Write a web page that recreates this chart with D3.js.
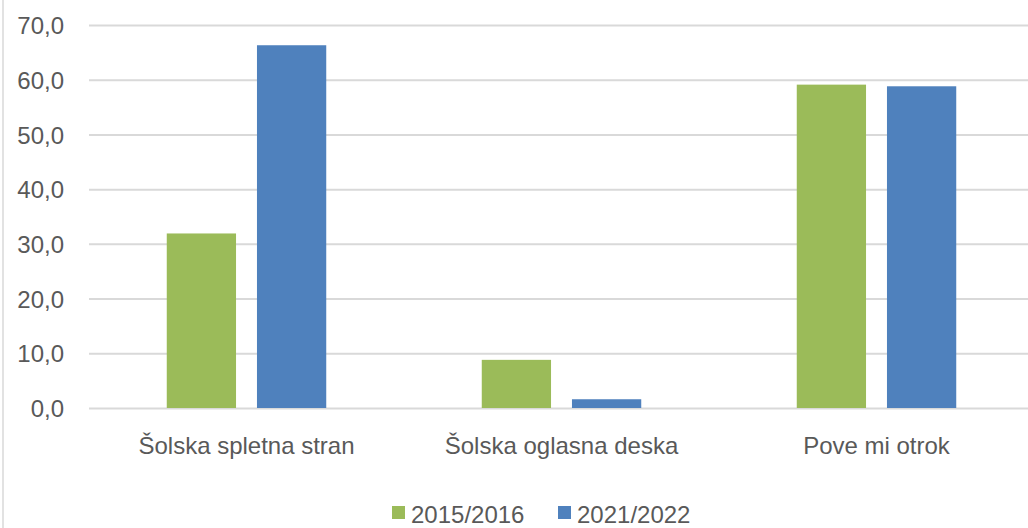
<!DOCTYPE html>
<html>
<head>
<meta charset="utf-8">
<script src="https://cdn.jsdelivr.net/npm/d3@7"></script>
<style>
  body { margin: 0; background: #fff; }
  svg { display: block; }
  text { font-family: "Liberation Sans", Arial, sans-serif; fill: #595959; }
</style>
</head>
<body>
<svg id="chart"></svg>
<script>
const categories = ['Šolska spletna stran', 'Šolska oglasna deska', 'Pove mi otrok'];
const series = ['2015/2016', '2021/2022'];
const values2015 = [31.9, 8.8, 59.1];
const values2021 = [66.3, 1.6, 58.8];
const yTicks = [0, 10, 20, 30, 40, 50, 60, 70];
const colors = ['#9bbb59', '#4f81bd'];

const width = 1028;
const height = 528;
const margin = { top: 25, left: 89, right: -6, bottom: 120 };
const fontSize = '24px';

const svg = d3.select('#chart')
    .attr('width', width)
    .attr('height', height);

// chart border on the left
svg.append('line')
    .attr('x1', 3).attr('x2', 3)
    .attr('y1', 0).attr('y2', height)
    .style('stroke', '#d9d9d9')
    .style('stroke-width', 1.5);

const x0 = d3.scaleBand()
    .domain(categories)
    .range([margin.left, width - margin.right])
    .padding(0);

const x1 = d3.scaleBand()
    .domain(series)
    .range([0, x0.bandwidth()])
    .paddingInner(0.232)
    .paddingOuter(0.862);

const y = d3.scaleLinear()
    .domain([0, 70])
    .range([height - margin.bottom, margin.top]);

const yAxis = svg.append('g')
    .attr('transform', `translate(${margin.left}, 0)`)
    .call(d3.axisLeft(y)
        .tickValues(yTicks)
        .tickSize(-(x0.range()[1] - x0.range()[0]))
        .tickPadding(25)
        .tickFormat(function(d) { return d3.format('.1f')(d).replace('.', ','); }));

yAxis.select('.domain').remove();
yAxis.selectAll('.tick line')
    .style('stroke', '#d9d9d9')
    .style('stroke-width', 2);
yAxis.selectAll('.tick text')
    .style('font-size', fontSize)
    .attr('dy', '0.36em');

const rows = categories.map(function(c, i) {
    return { cat: c, vals: [values2015[i], values2021[i]] };
});

const group = svg.selectAll('.group')
    .data(rows)
    .enter().append('g')
    .attr('class', 'group')
    .attr('transform', function(d) { return `translate(${x0(d.cat)}, 0)`; });

group.selectAll('rect')
    .data(function(d) { return d.vals.map(function(v, j) { return { s: series[j], v: v, j: j }; }); })
    .enter().append('rect')
    .attr('x', function(d) { return x1(d.s); })
    .attr('y', function(d) { return y(d.v); })
    .attr('width', x1.bandwidth())
    .attr('height', function(d) { return y(0) - y(d.v); })
    .style('fill', function(d) { return colors[d.j]; });

const xAxis = svg.append('g')
    .attr('transform', `translate(0, ${y(0)})`)
    .call(d3.axisBottom(x0).tickSize(0));

xAxis.select('.domain').remove();
xAxis.selectAll('.tick text')
    .style('font-size', fontSize)
    .attr('y', 46)
    .attr('dy', 0);

// legend
const legendX = [392, 558];
const legend = svg.selectAll('.legend')
    .data(series)
    .enter().append('g')
    .attr('class', 'legend')
    .attr('transform', function(d, i) { return `translate(${legendX[i]}, 506)`; });

legend.append('rect')
    .attr('width', 13)
    .attr('height', 13)
    .style('fill', function(d, i) { return colors[i]; });

legend.append('text')
    .attr('x', 19)
    .attr('y', 16.5)
    .style('font-size', fontSize)
    .text(function(d) { return d; });
</script>
</body>
</html>
